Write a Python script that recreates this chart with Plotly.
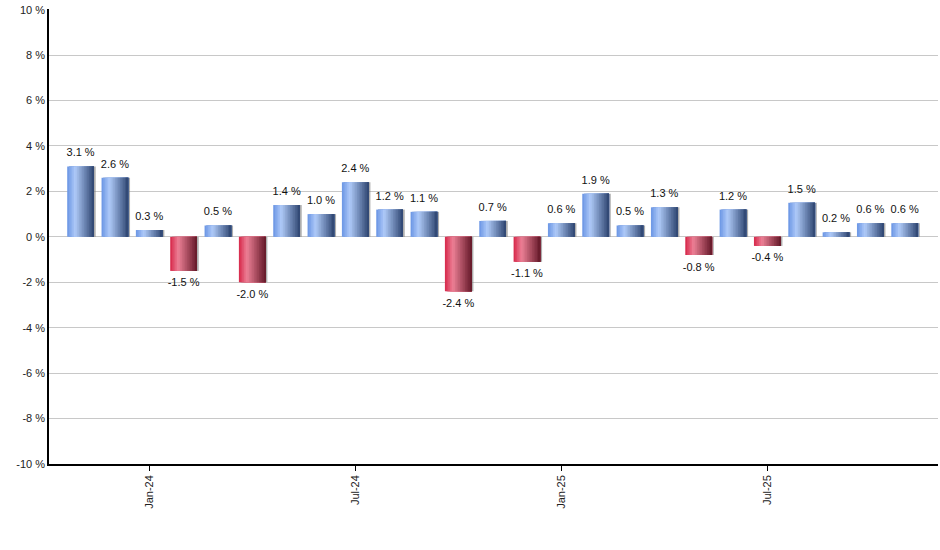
import plotly.graph_objects as go

# Monthly returns, Nov-23 .. Nov-25
months = ["Nov-23", "Dec-23", "Jan-24", "Feb-24", "Mar-24", "Apr-24", "May-24",
          "Jun-24", "Jul-24", "Aug-24", "Sep-24", "Oct-24", "Nov-24", "Dec-24",
          "Jan-25", "Feb-25", "Mar-25", "Apr-25", "May-25", "Jun-25", "Jul-25",
          "Aug-25", "Sep-25", "Oct-25", "Nov-25"]
returns = [3.1, 2.6, 0.3, -1.5, 0.5, -2.0, 1.4, 1.0, 2.4, 1.2, 1.1, -2.4, 0.7,
           -1.1, 0.6, 1.9, 0.5, 1.3, -0.8, 1.2, -0.4, 1.5, 0.2, 0.6, 0.6]
tick_months = ["Jan-24", "Jul-24", "Jan-25", "Jul-25"]
y_ticks = [-10, -8, -6, -4, -2, 0, 2, 4, 6, 8, 10]

x = list(range(len(months)))

# left -> highlight -> dark, to fake the cylinder shading
pos_stops = [(0.0, (105, 148, 228)), (0.3, (175, 202, 248)), (1.0, (45, 68, 112))]
neg_stops = [(0.0, (214, 38, 72)), (0.3, (236, 128, 150)), (1.0, (100, 24, 40))]


def shade(stops, t):
    for (t0, c0), (t1, c1) in zip(stops[:-1], stops[1:]):
        if t <= t1:
            f = (t - t0) / (t1 - t0)
            r, g, b = (round(a + (bb - a) * f) for a, bb in zip(c0, c1))
            return f"rgb({r},{g},{b})"
    r, g, b = stops[-1][1]
    return f"rgb({r},{g},{b})"


bar_w = 0.78
n_slices = 16
slice_w = bar_w / n_slices

fig = go.Figure()

# soft grey shadow on the right edge
fig.add_trace(go.Bar(x=x, y=returns, width=bar_w, offset=-bar_w / 2 + 0.05,
                     marker_color="rgba(120,120,120,0.6)", marker_line_width=0,
                     hoverinfo="skip"))

# each slice runs to the right edge of the bar, later slices cover the earlier ones
for i in range(n_slices):
    t = (i + 0.5) / n_slices
    colors = [shade(pos_stops, t) if v >= 0 else shade(neg_stops, t) for v in returns]
    fig.add_trace(go.Bar(x=x, y=returns, width=bar_w - i * slice_w,
                         offset=-bar_w / 2 + i * slice_w,
                         marker_color=colors, marker_line_width=0, hoverinfo="skip"))

fig.add_trace(go.Scatter(
    x=x, y=returns, mode="markers+text",
    marker=dict(size=10, opacity=0),
    text=[f"{v:.1f} %" for v in returns],
    textposition=["top center" if v >= 0 else "bottom center" for v in returns],
    textfont=dict(size=11, color="#111"),
    hoverinfo="skip",
))

fig.update_layout(
    width=940, height=550,
    margin=dict(l=49, r=2, t=9, b=86),
    barmode="overlay",
    showlegend=False,
    plot_bgcolor="white", paper_bgcolor="white",
    font=dict(family="Liberation Sans, Arial, sans-serif", size=11, color="#222"),
)
fig.update_xaxes(
    range=[-0.92, 24.97], automargin=False,
    tickvals=[months.index(m) for m in tick_months], ticktext=tick_months,
    tickangle=-90, ticks="outside", ticklen=5, tickcolor="black",
    showline=True, linecolor="black", linewidth=1.5, showgrid=False, zeroline=False,
)
# a hair above 10 so the top grid line is still drawn
fig.update_yaxes(
    range=[-10, 10.03], automargin=False,
    tickvals=y_ticks, ticktext=[f"{v} %" for v in y_ticks],
    showline=True, linecolor="black", linewidth=1.5,
    gridcolor="#c8c8c8", zeroline=False, ticks="",
)

# drop the default 8px body margin so the figure fills the window
fig.write_html("out.html", config={"displayModeBar": False},
               post_script="document.body.style.margin = '0';")
